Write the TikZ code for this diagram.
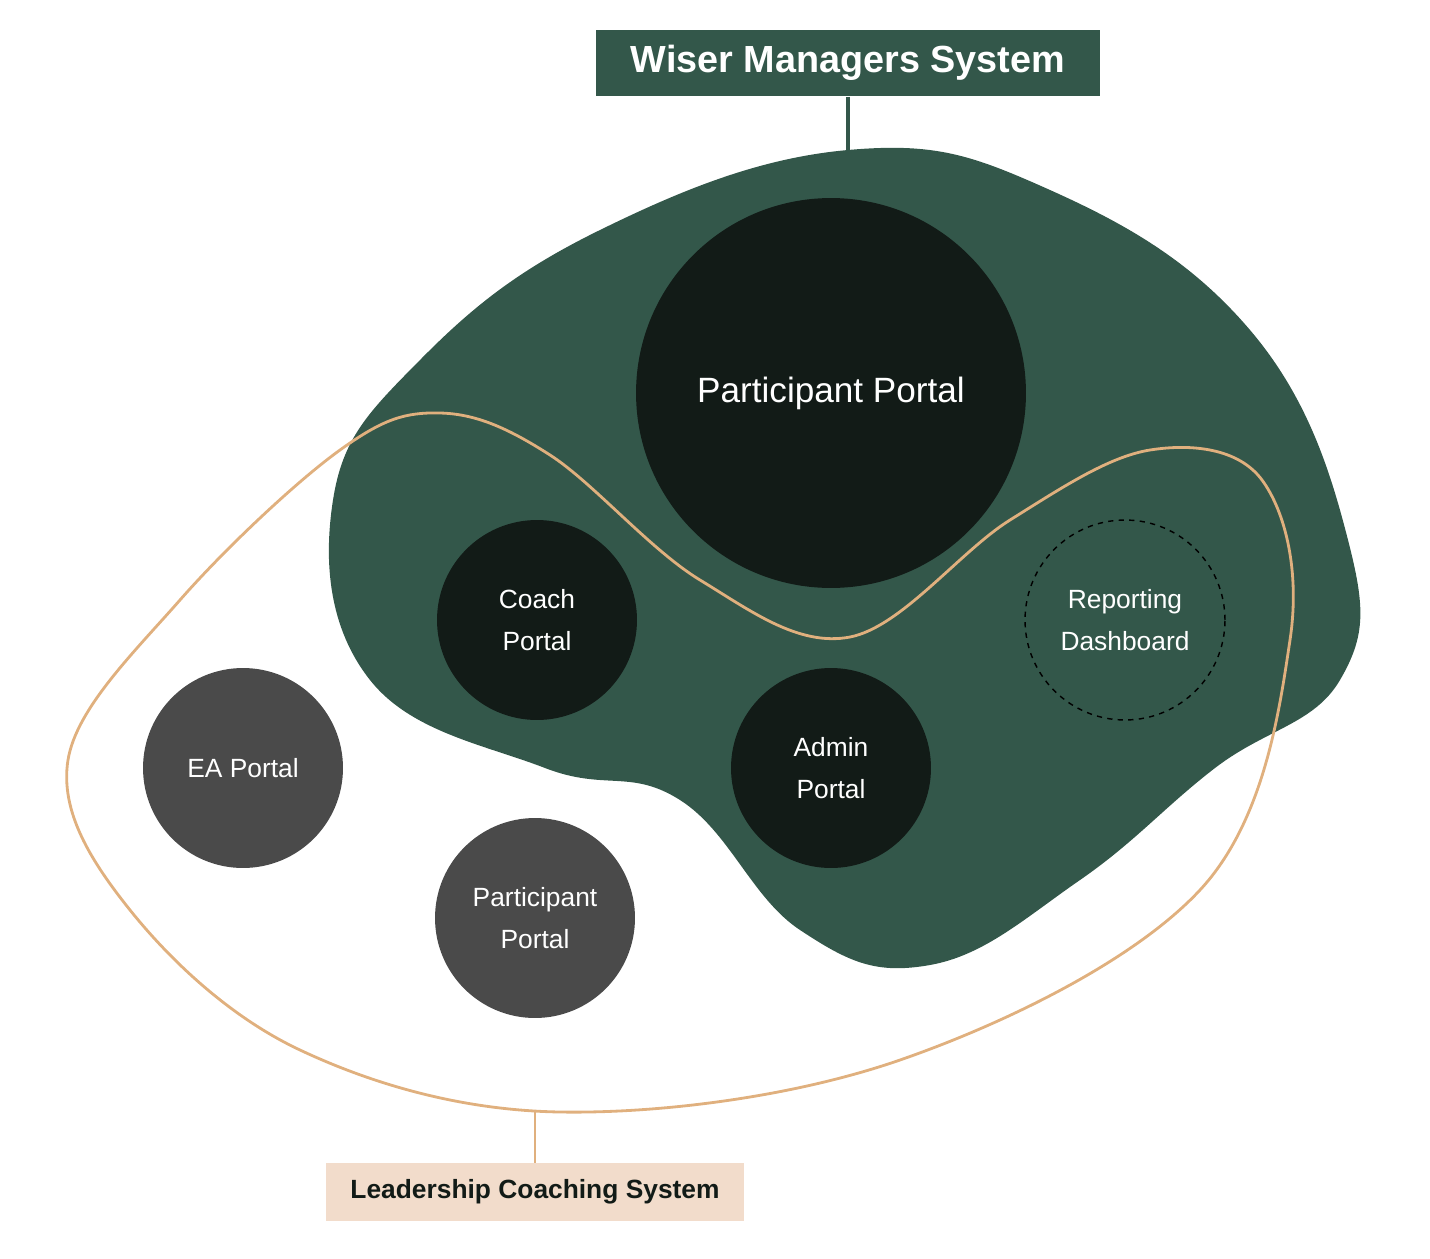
\documentclass[tikz,border=0pt]{standalone}
\usepackage{fontspec}
\setmainfont{Liberation Sans}
\definecolor{wgreen}{HTML}{33574A}
\definecolor{wdark}{HTML}{121B17}
\definecolor{wgray}{HTML}{4A4A4A}
\definecolor{lorange}{HTML}{E0B07E}
\definecolor{lbeige}{HTML}{F2DCCB}
\begin{document}
\begin{tikzpicture}[x=0.02cm,y=-0.02cm,
  portal/.style={circle,minimum size=4cm,inner sep=0pt,align=center,text=white,font=\fontsize{15}{24}\selectfont},
  dk/.style={portal,fill=wdark},
  gr/.style={portal,fill=wgray}]
\useasboundingbox (0,0) rectangle (1430,1258);
\fill[wgreen] plot[smooth cycle,tension=0.7] coordinates{(848,150)(600,230)(420,360)(333,500)(370,680)(545,768)(680,800)(800,930)(930,965)(1080,880)(1215,768)(1340,680)(1348,540)(1250,330)(1050,190)};
\node[dk,minimum size=7.8cm,font=\fontsize{20}{24}\selectfont] (pp) at (831,393) {Participant Portal};
\node[dk] (cp) at (537,620) {Coach\\Portal};
\node[dk] (ap) at (831,768) {Admin\\Portal};
\node[portal,draw=black,dashed,thick] (rd) at (1125,620) {Reporting\\Dashboard};
\node[gr] (ea) at (243,768) {EA Portal};
\node[gr] (pp2) at (535,918) {Participant\\Portal};
\draw[lorange,line width=1.6pt] plot[smooth cycle,tension=0.6] coordinates{(440,413)(340,450)(180,600)(68,760)(130,910)(300,1050)(560,1112)(900,1060)(1200,890)(1290,640)(1262,480)(1150,450)(1010,520)(850,637)(700,580)(550,455)};
\node[fill=wgreen,text=white,font=\bfseries\fontsize{21.5}{24}\selectfont,minimum width=10.1cm,minimum height=1.34cm] (t) at (848,63) {Wiser Managers System};
\coordinate (tb) at (848,150);
\draw[wgreen,line width=2pt] (t.south) -- (tb);
\node[fill=lbeige,text=wdark,font=\bfseries\fontsize{15}{18}\selectfont,minimum width=8.38cm,minimum height=1.16cm] (l) at (535,1192) {Leadership Coaching System};
\coordinate (lt) at (535,1112);
\draw[lorange,line width=1.6pt] (l.north) -- (lt);
\end{tikzpicture}
\end{document}
